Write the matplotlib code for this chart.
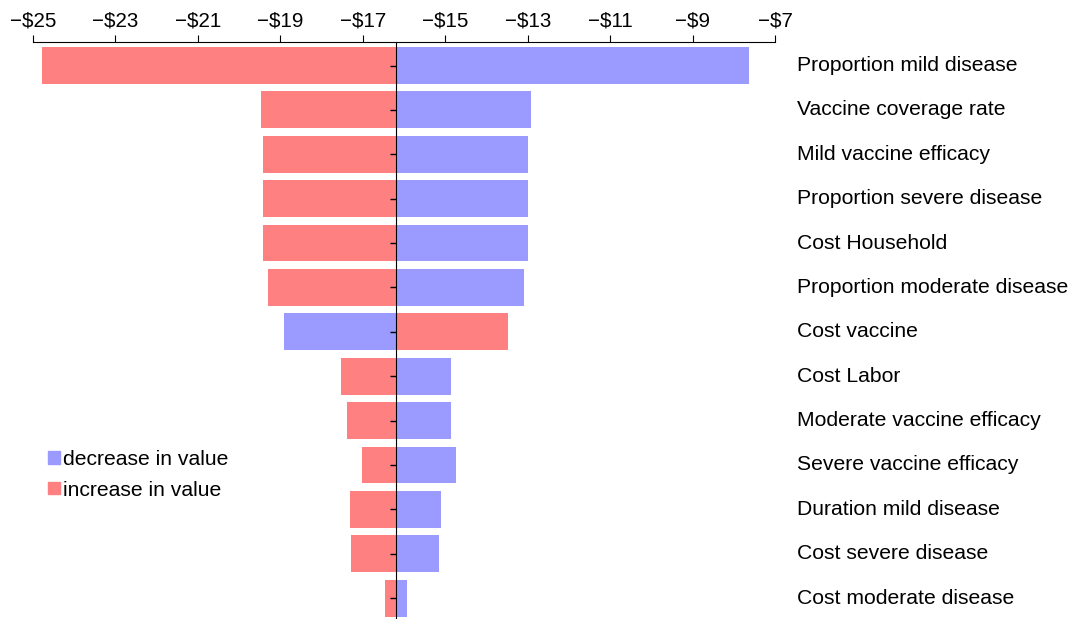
import matplotlib.pyplot as plt
from matplotlib.patches import Patch
from matplotlib.ticker import FuncFormatter

plt.rcParams['font.family'] = ['Liberation Sans', 'DejaVu Sans']

params = ["Proportion mild disease", "Vaccine coverage rate", "Mild vaccine efficacy",
          "Proportion severe disease", "Cost Household", "Proportion moderate disease",
          "Cost vaccine", "Cost Labor", "Moderate vaccine efficacy",
          "Severe vaccine efficacy", "Duration mild disease", "Cost severe disease",
          "Cost moderate disease"]
# outcome when the parameter is decreased / increased
decrease = [-7.62, -12.93, -12.98, -12.98, -12.98, -13.10, -18.92,
            -14.87, -14.87, -14.75, -15.11, -15.16, -15.93]
increase = [-24.78, -19.47, -19.42, -19.42, -19.42, -19.30, -13.48,
            -17.53, -17.39, -17.02, -17.32, -17.29, -16.47]
base = -16.2
ticks = [-25, -23, -21, -19, -17, -15, -13, -11, -9, -7]

blue = "#9a9aff"
red = "#ff8080"

fig = plt.figure(figsize=(10.75, 6.19), dpi=100)
ax = fig.add_axes([33 / 1075, 0, 742 / 1075, 577 / 619])

y = list(range(len(params)))
ax.barh(y, [d - base for d in decrease], left=base, height=0.83, color=blue, edgecolor="none")
ax.barh(y, [i - base for i in increase], left=base, height=0.83, color=red, edgecolor="none")

ax.set_xlim(-25, -7)
ax.set_ylim(12.47, -0.53)
ax.xaxis.tick_top()
ax.set_xticks(ticks)
ax.xaxis.set_major_formatter(FuncFormatter(lambda v, p: "\u2212$%d" % abs(v)))
ax.tick_params(axis="x", direction="out", length=5, labelsize=14.8, pad=3)

for s in ["right", "bottom"]:
    ax.spines[s].set_visible(False)
ax.spines["left"].set_position(("data", base))
ax.spines["left"].set_zorder(5)
ax.set_yticks(y)
ax.set_yticklabels([])
ax.tick_params(axis="y", direction="out", length=4, width=1)

for i, name in enumerate(params):
    ax.text(1.03, i, name, transform=ax.get_yaxis_transform(), va="center", ha="left", fontsize=15.2)

handles = [Patch(color=blue, label="decrease in value"), Patch(color=red, label="increase in value")]
ax.legend(handles=handles, loc="center left", bbox_to_anchor=(-0.005, 0.25), frameon=False,
          fontsize=15.2, handlelength=0.55, handleheight=0.55, handletextpad=0.15, labelspacing=0.55)

fig.savefig("out.png", dpi=100)
